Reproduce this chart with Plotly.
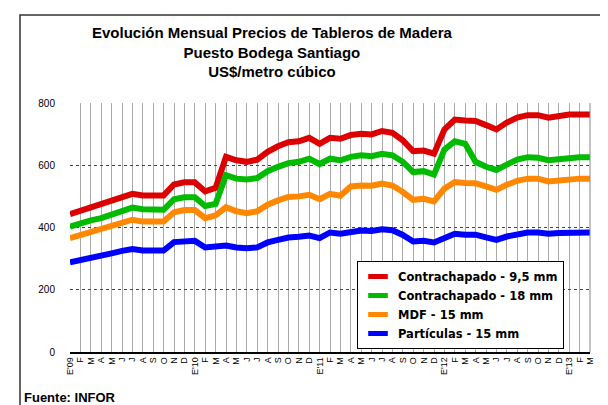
import plotly.graph_objects as go

months = ["E'09","F","M","A","M","J","J","A","S","O","N","D",
          "E'10","F","M","A","M","J","J","A","S","O","N","D",
          "E'11","F","M","A","M","J","J","A","S","O","N","D",
          "E'12","F","M","A","M","J","J","A","S","O","N","D",
          "E'13","F","M"]

contrachapado_95 = [443,454,464,473,486,497,508,503,501,503,538,545,
                    545,516,527,627,616,611,618,643,661,674,677,688,
                    669,688,685,697,701,699,710,704,680,645,647,637,
                    715,747,744,742,729,715,737,753,761,761,753,758,
                    763,763,763]
contrachapado_18 = [403,414,423,430,443,454,464,459,456,457,491,497,
                    497,469,476,568,557,554,559,581,595,607,611,621,
                    604,621,616,627,632,629,637,632,611,578,581,570,
                    650,677,669,611,595,585,602,618,626,624,616,620,
                    626,626,626]
mdf_15 = [366,376,384,392,405,416,425,419,417,419,449,456,
          456,430,439,465,452,446,452,473,487,498,500,505,
          491,508,502,532,535,534,541,535,514,489,492,484,
          525,546,543,542,532,521,537,550,557,557,548,551,
          557,557,557]
particulas_15 = [288,295,301,306,317,325,331,326,325,326,353,355,
                 357,336,341,342,336,333,336,352,360,368,370,374,
                 366,384,380,387,390,389,394,391,376,355,357,352,
                 366,380,377,377,368,360,371,380,384,384,380,382,
                 384,384,384]

series = [
    ("Contrachapado - 9,5 mm", contrachapado_95, "#DD0000"),
    ("Contrachapado - 18 mm", contrachapado_18, "#00BB00"),
    ("MDF - 15 mm", mdf_15, "#FF8800"),
    ("Partículas - 15 mm", particulas_15, "#0000FF"),
]

xs = list(range(len(months)))
fig = go.Figure()
for name, vals, col in series:
    fig.add_trace(go.Scatter(x=xs, y=vals, mode="lines", name=name,
                             line=dict(color=col, width=6), showlegend=False))
# legend entries with short Excel-like swatches
for name, vals, col in series:
    fig.add_trace(go.Scatter(x=[None], y=[None], mode="markers", name=name,
                             marker=dict(symbol="line-ew", size=14,
                                         line=dict(color=col, width=5))))

FONT = "Liberation Sans, Arial, sans-serif"
LFONT = "DejaVu Sans, Liberation Sans, Arial, sans-serif"
L, R, T, B = 62, 582, 95, 344
W, H = 608, 405

def px_x(p):
    return (p - L) / (R - L)

def px_y(p):
    return (B - p) / (B - T)

fig.update_layout(
    width=W, height=H,
    margin=dict(l=L, r=W - R, t=T, b=H - B),
    paper_bgcolor="white", plot_bgcolor="white",
    font=dict(family=FONT, color="black"),
    showlegend=True,
    legend=dict(x=px_x(349), y=px_y(253), xanchor="left", yanchor="top",
                bgcolor="white", bordercolor="black", borderwidth=1,
                font=dict(family=LFONT, size=11.5, color="black", weight="bold"),
                itemwidth=30, tracegroupgap=0),
    xaxis=dict(range=[0, len(months) - 1], tickmode="array", tickvals=xs,
               ticktext=months, tickangle=-90, tickfont=dict(size=9),
               showgrid=True, gridcolor="#AAAAAA", gridwidth=1,
               showline=True, linecolor="black", linewidth=1.5,
               ticks="", zeroline=False, fixedrange=True),
    yaxis=dict(range=[0, 800], dtick=200, tickfont=dict(size=10),
               showgrid=True, gridcolor="#444444", griddash="dot", gridwidth=1,
               showline=False, zeroline=False,
               ticks="outside", ticklen=12, tickcolor="rgba(0,0,0,0)",
               fixedrange=True),
    shapes=[dict(type="rect", xref="paper", yref="paper",
                 x0=px_x(12), x1=px_x(615), y0=px_y(415), y1=px_y(7),
                 line=dict(color="#333333", width=1.5), layer="below"),
            dict(type="line", xref="paper", yref="paper",
                 x0=1, x1=1, y0=0, y1=1,
                 line=dict(color="#888888", width=1))],
    annotations=[
        dict(text="<b>Evolución Mensual Precios de Tableros de Madera<br>Puesto Bodega Santiago<br>US$/metro cúbico</b>",
             xref="paper", yref="paper", x=px_x(264), y=px_y(44),
             xanchor="center", yanchor="middle", showarrow=False,
             font=dict(family=FONT, size=15, color="black")),
        dict(text="<b>Fuente: INFOR</b>", xref="paper", yref="paper",
             x=px_x(14), y=px_y(389), xanchor="left", yanchor="middle",
             showarrow=False, font=dict(family=FONT, size=13, color="black")),
    ],
)

fig.write_html("out.html")
